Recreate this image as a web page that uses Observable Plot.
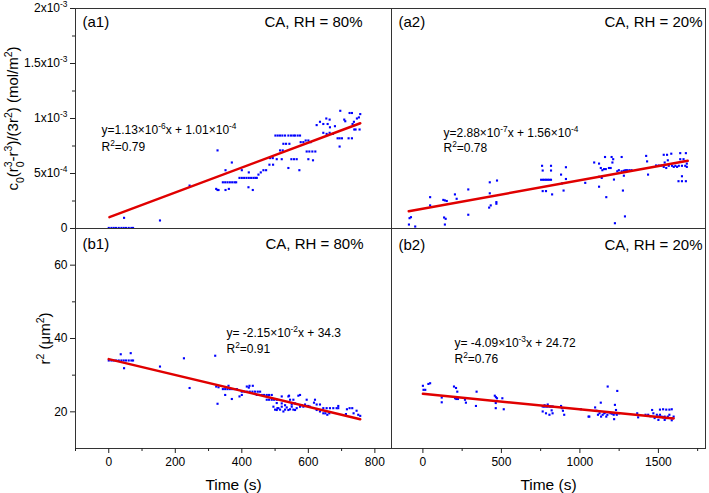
<!DOCTYPE html>
<html><head><meta charset="utf-8">
<script src="https://cdn.jsdelivr.net/npm/d3@7"></script>
<script src="https://cdn.jsdelivr.net/npm/@observablehq/plot@0.6"></script>
<style>
body{margin:0;background:#fff;}
#chart{position:relative;width:709px;height:493px;}
#chart > svg{position:absolute;}
</style></head><body><div id="chart"></div>
<script>
// ---------- data ----------
// panel a1 : CA, RH = 80%  (time s, c0(r0^3-r^3)/(3r^2) mol/m^2)
const a1Time = [0,8,15,22,30,38,45,52,60,68,73,46,154,243,327,323,327,330,351,370,351,361,
  343,350,357,364,371,378,383,400,421,420,433,393,400,407,414,421,428,435,441,445,
  450,457,465,473,483,494,485,493,501,508,515,522,530,540,548,555,515,523,505,520,525,533,543,540,
  549,557,565,560,568,575,573,577,585,592,600,607,595,603,612,621,600,614,
  625,635,645,658,654,664,645,655,664,674,665,680,688,694,701,694,696,708,711,721,731,724,731,
  733,737,746,752,756,738,742,754];
const a1Value = [0.05e-4,0.05e-4,0.05e-4,0.05e-4,0.05e-4,0.05e-4,0.05e-4,0.05e-4,0.05e-4,0.05e-4,0.05e-4,0.97e-4,0.73e-4,3.9e-4,7.1e-4,3.6e-4,3.5e-4,3.5e-4,5.3e-4,6.0e-4,3.5e-4,3.6e-4,
  4.2e-4,4.2e-4,4.2e-4,4.2e-4,4.2e-4,4.2e-4,4.2e-4,5.3e-4,5.1e-4,3.75e-4,3.5e-4,4.6e-4,4.6e-4,4.6e-4,4.6e-4,4.6e-4,4.6e-4,4.6e-4,4.6e-4,4.6e-4,
  4.9e-4,5.1e-4,5.3e-4,5.3e-4,5.8e-4,5.8e-4,6.4e-4,6.4e-4,8.45e-4,8.45e-4,8.45e-4,8.45e-4,8.45e-4,8.45e-4,8.45e-4,8.45e-4,7.1e-4,7.1e-4,6.3e-4,6.3e-4,7.7e-4,7.7e-4,7.7e-4,5.5e-4,
  6.3e-4,6.3e-4,6.3e-4,8.45e-4,8.45e-4,8.45e-4,5.3e-4,7.85e-4,7.85e-4,8.0e-4,8.0e-4,7.85e-4,7.0e-4,7.0e-4,7.0e-4,7.0e-4,6.3e-4,6.2e-4,
  9.4e-4,9.7e-4,9.5e-4,9.5e-4,10.0e-4,9.9e-4,8.7e-4,8.6e-4,8.7e-4,8.6e-4,9.2e-4,9.3e-4,8.2e-4,8.2e-4,8.2e-4,7.45e-4,10.7e-4,9.9e-4,9.75e-4,8.2e-4,8.2e-4,10.5e-4,10.5e-4,
  9.5e-4,9.7e-4,10.0e-4,10.1e-4,10.4e-4,9.0e-4,9.0e-4,9.0e-4];
const a1FitTime = [2, 756];
const a1FitValue = [1.03e-4, 9.57e-4];

// panel a2 : CA, RH = 20%
const a2Time = [-85,-76,-89,-49,46,46,130,140,152,135,145,140,204,215,289,289,426,472,426,422,432,468,468,
  759,763,816,816,753,765,775,785,795,805,816,763,784,823,880,886,896,911,911,1034,1091,
  1122,1133,1143,1154,1165,1185,1196,1160,1202,1212,1207,1122,1139,1122,1168,1217,1223,
  1238,1248,1266,1280,1290,1300,1315,1329,1266,1280,1274,1287,1422,1428,1434,1485,1502,1519,
  1534,1555,1582,1534,1550,1566,1587,1598,1608,1619,1630,1540,1560,1639,1675,1639,1660,1650,1671,1681,
  1628,1650,1675,1650,1681];
const a2Value = [0.94e-4,1.03e-4,0.36e-4,0.18e-4,2.85e-4,2.1e-4,2.6e-4,2.55e-4,2.5e-4,1.0e-4,0.88e-4,0.36e-4,3.1e-4,2.7e-4,3.55e-4,1.25e-4,4.2e-4,4.36e-4,3.2e-4,1.9e-4,2.1e-4,2.25e-4,2.4e-4,
  5.7e-4,5.27e-4,5.27e-4,5.7e-4,4.43e-4,4.43e-4,4.43e-4,4.43e-4,4.43e-4,4.43e-4,4.43e-4,3.4e-4,3.4e-4,3.1e-4,4.9e-4,4.1e-4,3.45e-4,5.57e-4,4.5e-4,4.15e-4,6.0e-4,
  5.9e-4,5.5e-4,5.3e-4,5.4e-4,5.4e-4,5.5e-4,5.5e-4,6.5e-4,6.5e-4,6.3e-4,6.0e-4,4.7e-4,4.6e-4,3.8e-4,2.85e-4,4.45e-4,0.48e-4,
  5.2e-4,5.3e-4,5.2e-4,5.25e-4,5.3e-4,5.3e-4,5.3e-4,5.3e-4,6.5e-4,4.8e-4,3.45e-4,1.1e-4,6.6e-4,6.1e-4,4.9e-4,5.73e-4,5.73e-4,5.73e-4,
  6.7e-4,6.7e-4,6.8e-4,5.6e-4,5.5e-4,5.7e-4,5.7e-4,5.6e-4,5.7e-4,5.6e-4,5.7e-4,6.0e-4,6.2e-4,6.85e-4,6.85e-4,6.3e-4,6.3e-4,5.7e-4,5.7e-4,5.6e-4,
  4.3e-4,4.3e-4,4.3e-4,4.75e-4,5.9e-4];
const a2FitTime = [-90, 1687];
const a2FitValue = [1.57e-4, 6.15e-4];

// panel b1 : CA, RH = 80%  (time s, r^2 um^2)
const b1Time = [0,8,15,22,30,38,45,52,60,68,73,36,66,46,154,226,243,320,327,323,330,
  343,350,357,364,371,378,385,350,360,370,393,400,400,408,416,424,432,440,448,455,415,423,433,421,
  445,452,460,467,475,482,490,475,482,490,497,505,505,507,520,542,575,
  495,500,505,510,515,520,525,530,535,540,545,550,555,560,565,540,545,555,570,
  520,530,550,560,580,590,600,575,585,595,605,595,620,617,625,635,625,635,645,
  645,655,665,675,685,690,651,657,663,690,716,724,732,713,736,745,750,756];
const b1Value = [34,34,34,34,34,34,34,34,34,34,34,35.7,36.0,31.9,32.35,34.6,26.5,35.3,22.2,26.9,26.7,
  26.2,26.2,26.2,26.2,26.2,26.2,26.2,24.6,27.1,23.5,24.2,24.6,25.5,25.5,25.5,25.5,25.5,25.5,25.5,25.5,26.9,27.1,27.1,26.6,
  24.6,24.6,24.6,24.6,24.6,24.6,24.6,23.3,23.3,23.3,23.3,23.3,22.4,21.0,24.2,24.4,24.6,
  21.4,20.6,20.5,21.0,20.6,21.4,20.1,20.6,21.2,20.5,20.7,21.4,20.6,20.5,21.0,24.2,23.3,23.3,24.4,
  22.3,21.8,22.0,22.3,21.8,22.0,21.6,21.4,21.4,21.6,21.4,23.3,23.3,22.5,22.0,22.0,20.5,20.1,19.6,
  21.0,21.0,21.0,21.0,21.0,21.0,19.6,19.2,19.6,21.6,20.7,21.0,21.0,19.4,19.6,20.3,19.2,18.9];
const b1FitTime = [0, 756];
const b1FitValue = [34.37, 18.0];

// panel b2 : CA, RH = 20%
const b2Time = [0,4,15,35,46,120,120,198,211,219,205,213,223,268,274,342,338,458,465,472,464,464,506,515,
  763,772,781,790,800,810,818,827,763,784,806,820,826,775,795,880,885,892,900,1006,1055,1060,
  1097,1105,1115,1125,1135,1145,1155,1133,1160,1168,1175,1185,1195,1205,1215,1225,1235,1250,
  1177,1238,1223,1230,1218,1365,1371,1418,1435,1449,1460,1468,1476,
  1490,1500,1510,1520,1530,1540,1550,1560,1570,1585,1597,1510,1530,1550,1570,1585,1500,1540,1585];
const b2Value = [27.1,26.0,26.0,27.6,27.8,23.9,22.6,26.9,26.5,25.5,23.7,23.5,23.5,23.3,22.5,25.5,21.6,24.4,24.0,23.7,22.4,21.0,23.7,20.7,
  21.45,21.45,21.45,21.45,21.45,21.45,21.45,21.45,20.1,19.6,19.2,20.4,19.6,21.8,22.0,21.6,21.0,20.3,19.2,20.7,18.7,18.7,
  21.2,20.3,19.2,19.6,18.7,19.2,19.6,22.5,19.8,18.7,19.2,19.9,19.6,19.5,19.2,19.6,19.2,19.6,
  26.9,25.7,21.9,20.5,18.0,19.6,18.5,19.2,19.2,18.8,20.5,19.6,18.3,
  19.2,18.7,19.2,18.7,18.5,18.7,18.3,18.7,19.2,18.3,18.7,20.6,20.7,20.6,20.6,20.7,17.8,17.8,17.7];
const b2FitTime = [0, 1597];
const b2FitValue = [24.9, 18.2];

// axes
const xTicks1 = [0, 200, 400, 600, 800];
const xMinor1 = [-100, 100, 300, 500, 700];
const xTicks2 = [0, 500, 1000, 1500];
const xMinor2 = [250, 750, 1250, 1750];
const yTicksA = [0, 5e-4, 1e-3, 1.5e-3, 2e-3];
const yTickLabelsA = ["0", "5x10^{-4}", "1x10^{-3}", "1.5x10^{-3}", "2x10^{-3}"];
const yMinorA = [2.5e-4, 7.5e-4, 1.25e-3, 1.75e-3];
const yTicksB = [20, 40, 60];
const yTickLabelsB = ["20", "40", "60"];
const yMinorB = [30, 50];

// texts
const panelNames = ["(a1)", "(a2)", "(b1)", "(b2)"];
const conditions = ["CA, RH = 80%", "CA, RH = 20%", "CA, RH = 80%", "CA, RH = 20%"];
const equations = ["y=1.13×10^{-6}x + 1.01×10^{-4}", "y=2.88×10^{-7}x + 1.56×10^{-4}",
  "y= -2.15×10^{-2}x + 34.3", "y= -4.09×10^{-3}x + 24.72"];
const r2s = ["R^{2}=0.79", "R^{2}=0.78", "R^{2}=0.91", "R^{2}=0.76"];
const yLabelA = "c_{0}(r^{3}_{0}-r^{3})/(3r^{2}) (mol/m^{2})";
const yLabelB = "r^{2} (μm^{2})";
const xLabel = "Time (s)";

// ---------- rendering ----------
const FONT = '"Liberation Sans", Arial, Helvetica, sans-serif';
const zip = (t, v) => t.map((d, i) => ({t: d, v: v[i]}));

function rich(svg) {
  const ns = "http://www.w3.org/2000/svg";
  svg.querySelectorAll("text").forEach(el => {
    const s = el.textContent;
    if (!/[\^_]\{/.test(s)) return;
    while (el.firstChild) el.removeChild(el.firstChild);
    const re = /([\^_])\{([^}]*)\}/g;
    let last = 0, m, prevSup = null;
    while ((m = re.exec(s))) {
      if (m.index > last) { el.appendChild(document.createTextNode(s.slice(last, m.index))); prevSup = null; }
      const ts = document.createElementNS(ns, "tspan");
      ts.setAttribute("font-size", "70%");
      ts.setAttribute("baseline-shift", m[1] === "^" ? "super" : "sub");
      if (m[1] === "_" && prevSup !== null) ts.setAttribute("dx", (-0.556 * prevSup.length) + "em");
      ts.textContent = m[2];
      el.appendChild(ts);
      prevSup = m[1] === "^" ? m[2] : null;
      last = re.lastIndex;
    }
    if (last < s.length) el.appendChild(document.createTextNode(s.slice(last)));
  });
}

const chart = document.getElementById("chart");
const RED = "#e00000", BLUE = "#0000ff", FRAME = "#333";

function panel(o) {
  const marks = [
    Plot.frame({stroke: FRAME}),
    Plot.dot(zip(o.time, o.value), {x: "t", y: "v", symbol: "square", r: 1.2, fill: BLUE}),
    Plot.line(zip(o.fitTime, o.fitValue), {x: "t", y: "v", stroke: RED, strokeWidth: 2.5}),
    Plot.text([o.name], {frameAnchor: "top-left", dx: o.nameDx, dy: o.titleDy, lineAnchor: "bottom", fontSize: 15}),
    Plot.text([o.cond], {frameAnchor: "top-right", textAnchor: "end", dx: o.condDx, dy: o.titleDy, lineAnchor: "bottom", fontSize: 15}),
    Plot.text([o.eq], {frameAnchor: "top-left", dx: o.eqDx, dy: o.eqDy, lineAnchor: "bottom", fontSize: 12}),
    Plot.text([o.r2], {frameAnchor: "top-left", dx: o.eqDx, dy: o.eqDy + o.eqGap, lineAnchor: "bottom", fontSize: 12}),
    ...(o.extra || [])
  ];
  const svg = Plot.plot({
    width: o.width, height: o.height,
    marginTop: o.mt, marginRight: o.mr, marginBottom: o.mb, marginLeft: o.ml,
    x: {domain: o.xDomain, axis: o.xAxis ? undefined : null},
    y: {domain: o.yDomain, axis: o.yAxis ? undefined : null},
    style: {background: "transparent", overflow: "visible", fontFamily: FONT, fontSize: "12px", color: "#000"},
    marks
  });
  svg.style.left = o.left + "px";
  svg.style.top = o.top + "px";
  rich(svg);
  chart.appendChild(svg);
}

function yAxisMarks(ticks, labels, minor, label, labelDx) {
  const map = new Map(ticks.map((d, i) => [d, labels[i]]));
  return [
    Plot.axisY({ticks, tickFormat: d => map.get(d), tickSize: 5, tickPadding: 3, fontSize: 12, label: null, stroke: "#222"}),
    Plot.axisY({ticks: minor, tickFormat: () => "", tickSize: 3, label: null, stroke: "#222"}),
    Plot.text([label], {frameAnchor: "left", rotate: -90, dx: labelDx, textAnchor: "middle", lineAnchor: "middle", fontSize: 15})
  ];
}
function xAxisMarks(ticks, minor) {
  return [
    Plot.axisX({ticks, tickFormat: d => String(d), tickSize: 5, tickPadding: 4, fontSize: 12, label: null, stroke: "#222"}),
    Plot.axisX({ticks: minor, tickFormat: () => "", tickSize: 3, label: null, stroke: "#222"}),
    Plot.text([xLabel], {frameAnchor: "bottom", dy: 41, lineAnchor: "bottom", fontSize: 15.5})
  ];
}

// a1
panel({left: 0, top: 0, width: 391, height: 229, mt: 8, mr: 0, mb: 1, ml: 75,
  xDomain: [-100, 850], yDomain: [0, 2e-3], yAxis: true,
  time: a1Time, value: a1Value, fitTime: a1FitTime, fitValue: a1FitValue,
  name: panelNames[0], cond: conditions[0], eq: equations[0], r2: r2s[0],
  nameDx: 7, condDx: -29, titleDy: 18, eqDx: 26, eqDy: 125, eqGap: 17,
  extra: yAxisMarks(yTicksA, yTickLabelsA, yMinorA, yLabelA, -62)});
// a2
panel({left: 391, top: 0, width: 318, height: 229, mt: 8, mr: 4, mb: 1, ml: 0,
  xDomain: [-200, 1800], yDomain: [0, 2e-3],
  time: a2Time, value: a2Value, fitTime: a2FitTime, fitValue: a2FitValue,
  name: panelNames[1], cond: conditions[1], eq: equations[1], r2: r2s[1],
  nameDx: 7, condDx: -3, titleDy: 18, eqDx: 52, eqDy: 128.5, eqGap: 15});
// b1
panel({left: 0, top: 228, width: 391, height: 265, mt: 0, mr: 0, mb: 45, ml: 75,
  xDomain: [-100, 850], yDomain: [10, 70], xAxis: true, yAxis: true,
  time: b1Time, value: b1Value, fitTime: b1FitTime, fitValue: b1FitValue,
  name: panelNames[2], cond: conditions[2], eq: equations[2], r2: r2s[2],
  nameDx: 7, condDx: -28, titleDy: 20, eqDx: 151, eqDy: 108, eqGap: 16,
  extra: [...yAxisMarks(yTicksB, yTickLabelsB, yMinorB, yLabelB, -30), ...xAxisMarks(xTicks1, xMinor1)]});
// b2
panel({left: 391, top: 228, width: 318, height: 265, mt: 0, mr: 4, mb: 45, ml: 0,
  xDomain: [-200, 1800], yDomain: [10, 70], xAxis: true,
  time: b2Time, value: b2Value, fitTime: b2FitTime, fitValue: b2FitValue,
  name: panelNames[3], cond: conditions[3], eq: equations[3], r2: r2s[3],
  nameDx: 7, condDx: -3, titleDy: 21, eqDx: 63, eqDy: 118, eqGap: 16,
  extra: xAxisMarks(xTicks2, xMinor2)});
</script></body></html>
